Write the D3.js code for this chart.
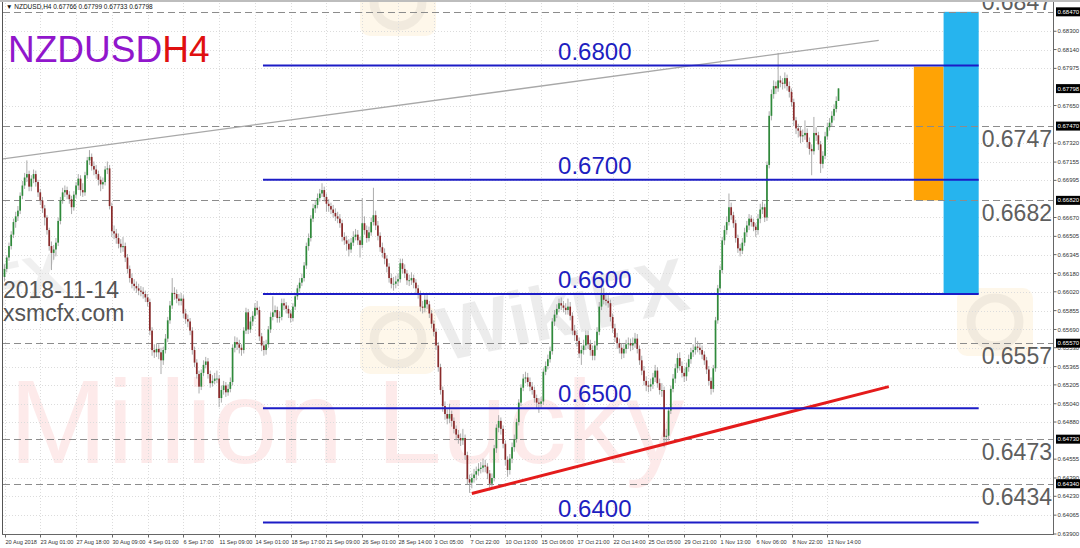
<!DOCTYPE html>
<html>
<head>
<meta charset="utf-8">
<script src="https://cdn.jsdelivr.net/npm/d3@7"></script>
<style>
html, body { margin: 0; padding: 0; background: #fff; }
svg { display: block; }
text { font-family: "Liberation Sans", Arial, sans-serif; }
</style>
</head>
<body>
<svg id="chart" width="1080" height="548"></svg>
<script>
"use strict";

/** Chart data (prices in pips, 1 pip = 0.0001). */
var PIP = 10000;
var firstOpen = 6615;

var closes = [
    6622,6632,6642,6652,6663,6668,6673,6686,6695,6702,
    6705,6694,6701,6705,6698,6689,6682,6675,6667,6656,
    6642,6636,6639,6645,6664,6682,6689,6691,6687,6683,
    6676,6687,6695,6701,6691,6689,6704,6717,6720,6712,
    6709,6705,6700,6696,6698,6709,6710,6677,6655,6653,
    6649,6644,6641,6642,6632,6622,6614,6609,6607,
    6605,6603,6602,6600,6597,6593,6568,6551,6549,6552,
    6549,6542,6551,6561,6577,6590,6601,6600,6596,6594,
    6596,6583,6578,6576,6568,6551,6540,6530,6519,
    6531,6538,6541,6530,6522,6524,6526,6526,6509,6516,
    6520,6514,6517,6523,6553,6558,6556,6553,6551,
    6568,6584,6569,6576,6581,6588,6586,6563,6555,6551,
    6556,6569,6580,6584,6586,6579,6580,6592,6590,6587,
    6583,6579,6589,6598,6605,6610,6614,6625,6642,6649,
    6666,6675,6678,6684,6688,6691,6685,6679,6677,6674,
    6671,6668,6666,6662,6650,6647,6644,6639,6645,6650,
    6652,6647,6643,6662,6656,6649,6654,6663,6669,6660,
    6651,6641,6636,6631,6624,6614,6609,6609,6611,6613,
    6627,6622,6618,6612,6612,6614,6610,6605,6600,
    6589,6588,6595,6591,6583,6574,6567,6555,6536,6516,
    6502,6495,6491,6495,6489,6482,6477,6474,6472,6474,
    6459,6438,6435,6439,6442,6445,6447,6448,6450,6449,
    6443,6434,6439,6465,6483,6489,6482,6469,6455,6446,
    6456,6466,6473,6488,6505,6518,6526,6527,6523,6519,
    6516,6509,6505,6504,6506,6532,6537,6543,6550,6576,
    6582,6587,6592,6590,6588,6586,6589,6581,6568,6564,
    6559,6548,6551,6555,6564,6556,6551,6546,6555,6567,
    6589,6600,6595,6594,6592,6580,6570,6562,6557,6553,
    6548,6552,6556,6557,6555,6557,6561,6552,6542,
    6533,6524,6520,6519,6521,6527,6533,6522,6516,6516,
    6475,6476,6498,6517,6526,6535,6544,6537,6531,6528,
    6536,6543,6549,6551,6554,6553,6551,6547,6542,
    6534,6524,6517,6535,6577,6605,6621,6647,6656,6663,
    6676,6669,6662,6649,6640,6638,6645,6654,6660,6666,
    6663,6659,6656,6666,6674,6676,6667,6713,6756,6775,
    6782,6780,6787,6785,6784,6789,6782,6777,6768,6752,
    6745,6743,6738,6739,6741,6733,6727,6725,6741,6739,
    6731,6714,6721,6738,6746,6750,6756,6762,6769,6780
];

var highs = [
    6626,6634,6645,6655,6666,6672,6677,6689,6699,6706,
    6717,6708,6704,6709,6708,6700,6692,6685,6678,6669,
    6658,6646,6643,6649,6667,6685,6693,6695,6694,6690,
    6686,6690,6698,6705,6704,6697,6707,6720,6726,6723,
    6716,6713,6708,6703,6702,6712,6716,6713,6680,6660,
    6657,6653,6648,6650,6645,6635,6625,6618,6613,
    6611,6609,6607,6606,6603,6600,6596,6571,6556,6557,
    6556,6553,6554,6565,6580,6594,6614,6606,6604,6600,
    6601,6599,6587,6582,6579,6571,6554,6543,6533,
    6534,6542,6545,6544,6533,6529,6531,6533,6529,6520,
    6524,6523,6521,6527,6556,6563,6562,6560,6556,
    6571,6588,6587,6580,6585,6592,6594,6589,6566,6559,
    6560,6572,6584,6598,6590,6589,6585,6596,6596,6593,
    6590,6586,6592,6601,6608,6614,6618,6628,6645,6653,
    6669,6679,6682,6688,6692,6697,6694,6688,6683,6680,
    6678,6675,6672,6670,6665,6654,6651,6648,6649,6655,
    6657,6656,6650,6684,6668,6660,6659,6667,6693,6673,
    6664,6654,6645,6640,6634,6627,6618,6615,6616,6618,
    6631,6631,6626,6621,6617,6619,6617,6613,6608,
    6603,6594,6599,6599,6594,6586,6577,6570,6558,6539,
    6519,6506,6499,6504,6498,6492,6485,6481,6478,6482,
    6477,6462,6442,6443,6447,6449,6452,6453,6456,6455,
    6452,6446,6443,6468,6486,6494,6492,6485,6472,6458,
    6460,6470,6477,6491,6508,6521,6530,6532,6531,6527,
    6523,6519,6512,6509,6510,6535,6541,6547,6554,6579,
    6586,6591,6596,6597,6594,6592,6596,6593,6584,6573,
    6568,6562,6555,6560,6568,6568,6560,6555,6559,6571,
    6593,6606,6605,6601,6599,6595,6583,6574,6566,6561,
    6557,6556,6560,6562,6561,6562,6566,6565,6555,
    6546,6537,6528,6524,6526,6531,6538,6536,6526,6522,
    6519,6482,6501,6520,6530,6539,6548,6549,6541,6535,
    6540,6547,6553,6556,6562,6559,6557,6555,6550,
    6545,6537,6527,6538,6580,6608,6625,6650,6660,6668,
    6688,6680,6672,6665,6652,6644,6649,6658,6664,6670,
    6669,6666,6662,6670,6679,6681,6679,6716,6760,6779,
    6787,6786,6811,6791,6789,6794,6792,6786,6780,6771,
    6755,6749,6747,6744,6752,6745,6737,6731,6755,6746,
    6742,6734,6725,6742,6750,6754,6760,6766,6773,6780
];

var lows = [
    6611,6619,6629,6639,6649,6658,6664,6670,6683,6692,
    6698,6690,6690,6697,6694,6685,6678,6671,6660,6652,
    6638,6621,6630,6633,6642,6661,6679,6685,6683,6679,
    6670,6673,6684,6691,6686,6685,6686,6701,6713,6708,
    6704,6701,6695,6690,6692,6695,6705,6674,6650,6648,
    6644,6640,6636,6637,6628,6618,6610,6605,6603,
    6601,6599,6598,6596,6593,6589,6564,6546,6544,6545,
    6543,6530,6538,6548,6558,6574,6587,6595,6592,6590,
    6590,6579,6574,6571,6564,6547,6536,6526,6513,
    6516,6528,6535,6526,6518,6519,6521,6522,6501,6505,
    6512,6510,6511,6514,6520,6549,6551,6548,6546,
    6548,6565,6565,6566,6572,6578,6582,6559,6550,6546,
    6547,6553,6566,6577,6580,6575,6575,6577,6586,6583,
    6579,6575,6576,6586,6595,6602,6607,6611,6622,6638,
    6646,6663,6671,6675,6681,6685,6681,6672,6672,6670,
    6667,6664,6662,6658,6646,6643,6638,6633,6636,6642,
    6647,6643,6632,6640,6652,6645,6646,6651,6660,6656,
    6647,6637,6632,6626,6619,6610,6605,6603,6605,6607,
    6610,6618,6614,6608,6607,6608,6605,6600,6596,
    6585,6583,6584,6587,6579,6570,6563,6551,6532,6512,
    6497,6490,6486,6487,6484,6478,6472,6469,6467,6468,
    6455,6433,6426,6430,6435,6437,6441,6443,6444,6444,
    6438,6428,6430,6436,6461,6479,6477,6465,6450,6440,
    6442,6452,6462,6470,6485,6502,6515,6522,6519,6515,
    6512,6505,6500,6496,6500,6503,6529,6534,6540,6547,
    6572,6579,6584,6586,6584,6582,6582,6577,6564,6559,
    6554,6544,6538,6547,6551,6552,6546,6542,6542,6551,
    6564,6586,6591,6590,6588,6576,6566,6558,6552,6548,
    6543,6544,6548,6552,6550,6551,6553,6548,6538,
    6529,6520,6515,6514,6515,6517,6523,6518,6512,6510,
    6466,6469,6472,6495,6514,6522,6531,6533,6527,6523,
    6524,6532,6539,6545,6547,6549,6547,6543,6538,
    6530,6520,6512,6514,6532,6574,6602,6618,6643,6652,
    6660,6665,6658,6645,6636,6633,6635,6642,6650,6656,
    6659,6655,6650,6652,6662,6670,6663,6664,6710,6752,
    6771,6775,6777,6781,6779,6780,6778,6772,6764,6747,
    6740,6737,6732,6733,6735,6728,6722,6704,6722,6734,
    6726,6706,6710,6718,6735,6743,6747,6752,6759,6773
];

/** One time label every 16 H4 bars. */
var BARS_PER_LABEL = 16;
var timeLabels = ["20 Aug 2018", "23 Aug 01:00", "27 Aug 18:00", "30 Aug 09:00", "4 Sep 01:00",
    "6 Sep 17:00", "11 Sep 09:00", "14 Sep 01:00", "18 Sep 17:00", "21 Sep 09:00", "26 Sep 01:00",
    "28 Sep 14:00", "3 Oct 05:00", "7 Oct 22:00", "10 Oct 13:00", "15 Oct 06:00", "17 Oct 21:00",
    "22 Oct 14:00", "25 Oct 05:00", "29 Oct 21:00", "1 Nov 13:00", "6 Nov 06:00", "8 Nov 22:00",
    "13 Nov 14:00"];

var priceTicks = [0.68300, 0.68140, 0.67975, 0.67650, 0.67320, 0.67155, 0.66995, 0.66670, 0.66505,
    0.66345, 0.66180, 0.66020, 0.65855, 0.65690, 0.65530, 0.65365, 0.65205, 0.65040, 0.64880,
    0.64555, 0.64390, 0.64230, 0.64065, 0.63900];

var keyLevels = [0.68470, 0.67470, 0.66820, 0.65570, 0.64730, 0.64340];
var keyLabels = ["0.6847", "0.6747", "0.6682", "0.6557", "0.6473", "0.6434"];
var currentPrice = 0.67798;
var headerQuote = "NZDUSD,H4  0.67766 0.67799 0.67733 0.67798";

var roundLevels = [0.6800, 0.6700, 0.6600, 0.6500, 0.6400];
var roundLabels = ["0.6800", "0.6700", "0.6600", "0.6500", "0.6400"];
var roundSpan = [115.6, 435.7];     // bar indexes the round levels run between
var roundLabelBar = 264;

var grayTrend = [[-2, 0.67180], [391, 0.68220]];
var redTrend = [[209, 0.64254], [395.5, 0.65190]];

var targetZones = [
    {from: 406.7, to: 420.0, top: 0.67990, bottom: 0.66820},
    {from: 420.0, to: 435.7, top: 0.68470, bottom: 0.66000}
];

/** Layout. */
var WIDTH = 1080, HEIGHT = 548;
var PLOT = {left: 3, right: 1053, top: 0, bottom: 534};
var ZONE_COLORS = ["#ffa305", "#26b4ee"];
var BULL = "#2f8a3b", BEAR = "#8a2a2a", WICK = "#a3a3a3";
var AXIS_FONT = 6;

var svg = d3.select("#chart");

var candles = closes.map(function(c, i) {
    var open = (i === 0 ? firstOpen : closes[i - 1]);
    return {
        i: i,
        open: open / PIP,
        close: c / PIP,
        high: Math.max(highs[i], open, c) / PIP,
        low: Math.min(lows[i], open, c) / PIP
    };
});

var xScale = d3.scaleLinear()
    .domain([0, candles.length - 1])
    .range([4.5, 838.5]);

var yScale = d3.scaleLinear()
    .domain([0.6390, 0.6850])
    .range([534, 8.4]);

svg.append("rect")
    .attr("width", WIDTH)
    .attr("height", HEIGHT)
    .attr("fill", "#ffffff");

svg.append("defs").append("clipPath")
    .attr("id", "plot-clip")
    .append("rect")
    .attr("x", PLOT.left)
    .attr("y", PLOT.top)
    .attr("width", PLOT.right - PLOT.left)
    .attr("height", PLOT.bottom - PLOT.top);

var plot = svg.append("g").attr("clip-path", "url(#plot-clip)");

/** Watermarks. */
var marks = plot.append("g").attr("class", "watermarks");
marks.append("text")
    .attr("x", 9)
    .attr("y", 463)
    .attr("font-size", 118)
    .attr("fill", "#f25a5a")
    .attr("fill-opacity", 0.13)
    .text("Million Lucky");

[[398, 340], [995, 322], [398, 2]].forEach(function(p) {
    var logo = marks.append("g").attr("transform", "translate(" + p[0] + "," + p[1] + ")");
    logo.append("rect")
        .attr("x", -38).attr("y", -34)
        .attr("width", 76).attr("height", 68)
        .attr("rx", 10)
        .attr("fill", "#f7c96a")
        .attr("fill-opacity", 0.14);
    logo.append("circle")
        .attr("r", 24)
        .attr("fill", "none")
        .attr("stroke", "#000")
        .attr("stroke-opacity", 0.05)
        .attr("stroke-width", 9);
});

marks.append("text")
    .attr("transform", "translate(568,335) rotate(-12)")
    .attr("text-anchor", "middle")
    .attr("font-size", 76)
    .attr("font-weight", "bold")
    .attr("fill", "#000")
    .attr("fill-opacity", 0.075)
    .text("WikiFX");

marks.append("text")
    .attr("transform", "translate(30,300) rotate(-12)")
    .attr("text-anchor", "middle")
    .attr("font-size", 60)
    .attr("font-weight", "bold")
    .attr("fill", "#000")
    .attr("fill-opacity", 0.06)
    .text("FX");

/** Grid. */
var grid = plot.append("g").attr("class", "grid")
    .attr("stroke", "#dcdcdc")
    .attr("stroke-width", 1)
    .attr("stroke-dasharray", "1,2");

grid.selectAll("line.h")
    .data(priceTicks)
    .enter().append("line")
    .attr("class", "h")
    .attr("x1", PLOT.left)
    .attr("x2", PLOT.right)
    .attr("y1", function(d) { return Math.round(yScale(d)) + 0.5; })
    .attr("y2", function(d) { return Math.round(yScale(d)) + 0.5; });

grid.selectAll("line.v")
    .data(timeLabels)
    .enter().append("line")
    .attr("class", "v")
    .attr("x1", function(d, k) { return Math.round(xScale(k * BARS_PER_LABEL)) + 0.5; })
    .attr("x2", function(d, k) { return Math.round(xScale(k * BARS_PER_LABEL)) + 0.5; })
    .attr("y1", PLOT.top)
    .attr("y2", PLOT.bottom);

/** Target zones. */
plot.selectAll("rect.zone")
    .data(targetZones)
    .enter().append("rect")
    .attr("class", "zone")
    .attr("x", function(d) { return xScale(d.from); })
    .attr("width", function(d) { return xScale(d.to) - xScale(d.from); })
    .attr("y", function(d) { return yScale(d.top); })
    .attr("height", function(d) { return yScale(d.bottom) - yScale(d.top); })
    .attr("fill", function(d, i) { return ZONE_COLORS[i]; });

/** Dashed key levels. */
plot.selectAll("line.key")
    .data(keyLevels)
    .enter().append("line")
    .attr("class", "key")
    .attr("x1", PLOT.left)
    .attr("x2", PLOT.right)
    .attr("y1", function(d) { return Math.round(yScale(d)) + 0.5; })
    .attr("y2", function(d) { return Math.round(yScale(d)) + 0.5; })
    .attr("stroke", "#8c8c8c")
    .attr("stroke-width", 1)
    .attr("stroke-dasharray", "7,4");

/** Trend lines. */
var lineGen = d3.line()
    .x(function(d) { return xScale(d[0]); })
    .y(function(d) { return yScale(d[1]); });

plot.append("path")
    .attr("d", lineGen(grayTrend))
    .attr("stroke", "#a8a8a8")
    .attr("stroke-width", 1.3)
    .attr("fill", "none");

/** Candles. */
var candle = plot.append("g").attr("class", "candles")
    .selectAll("g")
    .data(candles)
    .enter().append("g");

candle.append("line")
    .attr("x1", function(d) { return xScale(d.i); })
    .attr("x2", function(d) { return xScale(d.i); })
    .attr("y1", function(d) { return yScale(d.high); })
    .attr("y2", function(d) { return yScale(d.low); })
    .attr("stroke", WICK)
    .attr("stroke-width", 0.9);

candle.append("rect")
    .attr("x", function(d) { return xScale(d.i) - 0.85; })
    .attr("width", 1.7)
    .attr("y", function(d) { return yScale(Math.max(d.open, d.close)); })
    .attr("height", function(d) {
        return Math.max(yScale(Math.min(d.open, d.close)) - yScale(Math.max(d.open, d.close)), 0.8);
    })
    .attr("fill", function(d) { return d.close >= d.open ? BULL : BEAR; });

plot.append("path")
    .attr("d", lineGen(redTrend))
    .attr("stroke", "#e41b1b")
    .attr("stroke-width", 3)
    .attr("fill", "none");

/** Round-number levels. */
var roundG = plot.append("g").attr("class", "round-levels");
roundG.selectAll("line")
    .data(roundLevels)
    .enter().append("line")
    .attr("x1", xScale(roundSpan[0]))
    .attr("x2", xScale(roundSpan[1]))
    .attr("y1", function(d) { return yScale(d); })
    .attr("y2", function(d) { return yScale(d); })
    .attr("stroke", "#1c1cc6")
    .attr("stroke-width", 2);

roundG.selectAll("text")
    .data(roundLevels)
    .enter().append("text")
    .attr("x", xScale(roundLabelBar))
    .attr("y", function(d) { return yScale(d) - 6; })
    .attr("text-anchor", "middle")
    .attr("font-size", 24)
    .attr("fill", "#1e1ec0")
    .text(function(d, i) { return roundLabels[i]; });

/** Key level labels on the right. */
plot.selectAll("text.key-label")
    .data(keyLevels)
    .enter().append("text")
    .attr("class", "key-label")
    .attr("x", PLOT.right - 1)
    .attr("y", function(d, i) { return i === 0 ? yScale(d) - 2 : yScale(d) + 21; })
    .attr("text-anchor", "end")
    .attr("font-size", 23)
    .attr("fill", "#5e5e5e")
    .text(function(d, i) { return keyLabels[i]; });

/** Titles. */
var title = svg.append("text")
    .attr("x", 8)
    .attr("y", 62)
    .attr("font-size", 37);
title.append("tspan").attr("fill", "#9116cc").text("NZDUSD");
title.append("tspan").attr("fill", "#e01010").text("H4");

svg.append("text")
    .attr("x", 3)
    .attr("y", 298)
    .attr("font-size", 23)
    .attr("fill", "#555")
    .text("2018-11-14");
svg.append("text")
    .attr("x", 3)
    .attr("y", 321)
    .attr("font-size", 23)
    .attr("fill", "#555")
    .text("xsmcfx.com");

/** Header strip. */
svg.append("rect")
    .attr("width", WIDTH)
    .attr("height", 2)
    .attr("fill", "#bdbdbd");
svg.append("text")
    .attr("x", 6)
    .attr("y", 8.5)
    .attr("font-size", 6.5)
    .attr("fill", "#111")
    .text("\u25BC " + headerQuote);

/** Frame. */
svg.append("line")
    .attr("x1", PLOT.left - 0.5).attr("x2", PLOT.left - 0.5)
    .attr("y1", 2).attr("y2", PLOT.bottom)
    .attr("stroke", "#555");
svg.append("line")
    .attr("x1", PLOT.right + 0.5).attr("x2", PLOT.right + 0.5)
    .attr("y1", 2).attr("y2", PLOT.bottom + 0.5)
    .attr("stroke", "#666");
svg.append("line")
    .attr("x1", PLOT.left - 1).attr("x2", PLOT.right + 1)
    .attr("y1", PLOT.bottom + 0.5).attr("y2", PLOT.bottom + 0.5)
    .attr("stroke", "#666");

/** Price axis. */
var priceAxis = svg.append("g").attr("class", "price-axis");
var fmt = d3.format(".5f");

priceAxis.selectAll("g.tick")
    .data(priceTicks)
    .enter().append("g")
    .attr("class", "tick")
    .attr("transform", function(d) { return "translate(" + (PLOT.right + 0.5) + "," + yScale(d) + ")"; })
    .each(function(d) {
        var g = d3.select(this);
        g.append("line").attr("x2", 3).attr("stroke", "#666");
        g.append("text")
            .attr("x", 4)
            .attr("dy", "0.35em")
            .attr("font-size", AXIS_FONT)
            .attr("fill", "#333")
            .text(fmt(d));
    });

var flagged = keyLevels.concat([currentPrice]);
priceAxis.selectAll("g.flag")
    .data(flagged)
    .enter().append("g")
    .attr("class", "flag")
    .attr("transform", function(d) { return "translate(" + (PLOT.right + 1) + "," + yScale(d) + ")"; })
    .each(function(d) {
        var g = d3.select(this);
        g.append("rect")
            .attr("x", 2).attr("y", -4.5)
            .attr("width", 24).attr("height", 9)
            .attr("fill", "#000");
        g.append("text")
            .attr("x", 3.5)
            .attr("dy", "0.35em")
            .attr("font-size", AXIS_FONT)
            .attr("fill", "#fff")
            .text(fmt(d));
    });

/** Time axis. */
svg.append("g").attr("class", "time-axis")
    .selectAll("g")
    .data(timeLabels)
    .enter().append("g")
    .attr("transform", function(d, k) {
        return "translate(" + (Math.round(xScale(k * BARS_PER_LABEL)) + 0.5) + "," + (PLOT.bottom + 0.5) + ")";
    })
    .each(function(d) {
        var g = d3.select(this);
        g.append("line").attr("y2", 3).attr("stroke", "#666");
        g.append("text")
            .attr("x", 0)
            .attr("y", 9)
            .attr("font-size", 5.6)
            .attr("fill", "#333")
            .text(d);
    });
</script>
</body>
</html>
